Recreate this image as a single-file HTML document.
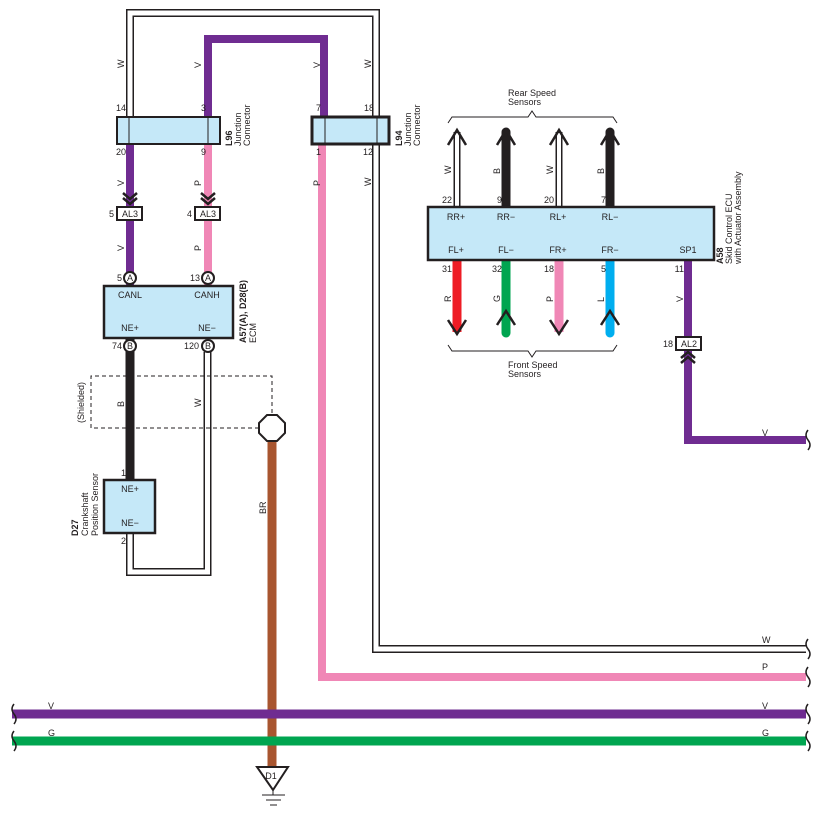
<!DOCTYPE html>
<html><head><meta charset="utf-8"><style>body{margin:0;background:#fff}svg{display:block}text{font-family:"Liberation Sans",sans-serif;font-size:9px;fill:#231f20}</style></head><body>
<svg width="818" height="819" viewBox="0 0 818 819" xmlns="http://www.w3.org/2000/svg">
<g fill="none" stroke-linejoin="miter">
<!-- white wire top loop -->
<path d="M130,117 V13 H376 V649 H806" stroke="#231f20" stroke-width="8"/>
<path d="M130,117 V13 H376 V649 H806" stroke="#fff" stroke-width="5"/>
<!-- purple top -->
<path d="M208,117 V39 H324 V117" stroke="#6f2c91" stroke-width="8"/>
<!-- pink L94 down -->
<path d="M322,144 V677 H806" stroke="#f087b6" stroke-width="8"/>
<!-- left wires -->
<path d="M130,144 V286" stroke="#6f2c91" stroke-width="8"/>
<path d="M208,144 V286" stroke="#f087b6" stroke-width="8"/>
<path d="M130,338 V480" stroke="#231f20" stroke-width="9"/>
<path d="M207.5,352 V572 H130 V533" stroke="#231f20" stroke-width="8"/>
<path d="M207.5,352 V572 H130 V533" stroke="#fff" stroke-width="5"/>
<!-- shield -->
<path d="M259,428 H91 V376 H272 V414" stroke="#231f20" stroke-width="1" stroke-dasharray="4,3"/>
<!-- BR -->
<path d="M272,441 V768" stroke="#a8552f" stroke-width="9"/>
<!-- bus -->
<path d="M12,714 H806" stroke="#6f2c91" stroke-width="9"/>
<path d="M12,741 H806" stroke="#00a550" stroke-width="9"/>
<!-- SP1 -->
<path d="M688,260 V440 H806" stroke="#6f2c91" stroke-width="8"/>
<!-- rear sensors -->
<path d="M457,207 V132" stroke="#231f20" stroke-width="7"/>
<path d="M457,208 V133" stroke="#fff" stroke-width="4"/>
<path d="M559,207 V132" stroke="#231f20" stroke-width="7"/>
<path d="M559,208 V133" stroke="#fff" stroke-width="4"/>
<path d="M506,207 V132" stroke="#231f20" stroke-width="9" stroke-linecap="round"/>
<path d="M610,207 V132" stroke="#231f20" stroke-width="9" stroke-linecap="round"/>
<!-- front sensors -->
<path d="M457,260 V332" stroke="#ee1c25" stroke-width="9"/>
<path d="M506,260 V333" stroke="#00a550" stroke-width="9" stroke-linecap="round"/>
<path d="M559,260 V332" stroke="#f087b6" stroke-width="9"/>
<path d="M610,260 V333" stroke="#00aeef" stroke-width="9" stroke-linecap="round"/>
<!-- chevrons -->
<g stroke="#231f20" stroke-width="2.5">
<path d="M448,145 L457,130 L466,145 M497,145 L506,130 L515,145 M550,145 L559,130 L568,145 M601,145 L610,130 L619,145"/>
<path d="M448,320 L457,334 L466,320 M550,320 L559,334 L568,320"/>
<path d="M497,325 L506,311 L515,325 M601,325 L610,311 L619,325"/>
<path d="M123,193 L130,199 L137,193 M123,198 L130,204 L137,198"/>
<path d="M201,193 L208,199 L215,193 M201,198 L208,204 L215,198"/>
<path d="M681,358 L688,352 L695,358 M681,363 L688,357 L695,363"/>
</g>
<!-- braces -->
<path d="M448,123 L452,117 H528 L532,111 L536,117 H613 L617,123" stroke="#231f20" stroke-width="1"/>
<path d="M448,345 L452,351 H528 L532,357 L536,351 H613 L617,345" stroke="#231f20" stroke-width="1"/>
<!-- squiggles -->
<g stroke="#231f20" stroke-width="1.5">
<path d="M14,704 q-4,5 0,10 q4,5 0,10 M14,731 q-4,5 0,10 q4,5 0,10"/>
<path d="M808,704 q-4,5 0,10 q4,5 0,10 M808,731 q-4,5 0,10 q4,5 0,10 M808,639 q-4,5 0,10 q4,5 0,10 M808,667 q-4,5 0,10 q4,5 0,10 M808,430 q-4,5 0,10 q4,5 0,10"/>
</g>
</g>
<!-- connectors -->
<rect x="117" y="117" width="103" height="27" fill="#c5e8f8" stroke="#231f20" stroke-width="2"/>
<path d="M129,117 V144 M208,117 V144" stroke="#231f20" stroke-width="1"/>
<rect x="312" y="117" width="77" height="27" fill="#c5e8f8" stroke="#231f20" stroke-width="3"/>
<path d="M325,117 V144 M377,117 V144" stroke="#231f20" stroke-width="1"/>
<rect x="117" y="207" width="25" height="13" fill="#fff" stroke="#231f20" stroke-width="2"/>
<rect x="195" y="207" width="25" height="13" fill="#fff" stroke="#231f20" stroke-width="2"/>
<rect x="676" y="337" width="25" height="13" fill="#fff" stroke="#231f20" stroke-width="2"/>
<rect x="104" y="286" width="129" height="52" fill="#c5e8f8" stroke="#231f20" stroke-width="2.5"/>
<rect x="104" y="480" width="51" height="53" fill="#c5e8f8" stroke="#231f20" stroke-width="2.5"/>
<rect x="428" y="207" width="286" height="53" fill="#c5e8f8" stroke="#231f20" stroke-width="2.5"/>
<g fill="#fff" stroke="#231f20" stroke-width="2">
<circle cx="130" cy="278" r="6"/><circle cx="208" cy="278" r="6"/>
<circle cx="130" cy="346" r="6"/><circle cx="208" cy="346" r="6"/>
<polygon points="267,415 277,415 285,423 285,433 277,441 267,441 259,433 259,423"/>
<polygon points="257,767 288,767 273,790"/>
</g>
<path d="M273,790 V795 M262,795 H285 M266,800 H281 M270,805 H277" stroke="#231f20" stroke-width="1"/>
<g text-anchor="middle">
<text x="130" y="217">AL3</text><text x="208" y="217">AL3</text><text x="689" y="347">AL2</text>
<text x="130" y="281" font-size="8">A</text><text x="208" y="281" font-size="8">A</text>
<text x="130" y="349" font-size="8">B</text><text x="208" y="349" font-size="8">B</text>
<text x="130" y="298">CANL</text><text x="207" y="298">CANH</text>
<text x="130" y="331">NE+</text><text x="207" y="331">NE−</text>
<text x="130" y="492">NE+</text><text x="130" y="526">NE−</text>
<text x="271" y="779" font-size="8">D1</text>
<text x="456" y="220">RR+</text><text x="506" y="220">RR−</text><text x="558" y="220">RL+</text><text x="610" y="220">RL−</text>
<text x="456" y="253">FL+</text><text x="506" y="253">FL−</text><text x="558" y="253">FR+</text><text x="610" y="253">FR−</text><text x="688" y="253">SP1</text>
</g>
<g text-anchor="end">
<text x="126" y="111">14</text><text x="206" y="111">3</text><text x="321" y="111">7</text><text x="374" y="111">18</text>
<text x="126" y="155">20</text><text x="206" y="155">9</text><text x="321" y="155">1</text><text x="373" y="155">12</text>
<text x="114" y="217">5</text><text x="192" y="217">4</text><text x="673" y="347">18</text>
<text x="122" y="281">5</text><text x="200" y="281">13</text><text x="122" y="349">74</text><text x="199" y="349">120</text>
<text x="126" y="476">1</text><text x="126" y="544">2</text>
<text x="452" y="203">22</text><text x="502" y="203">9</text><text x="554" y="203">20</text><text x="606" y="203">7</text>
<text x="452" y="272">31</text><text x="502" y="272">32</text><text x="554" y="272">18</text><text x="606" y="272">5</text><text x="684" y="272">11</text>
</g>
<text x="508" y="96">Rear Speed</text><text x="508" y="105">Sensors</text>
<text x="508" y="368">Front Speed</text><text x="508" y="377">Sensors</text>
<text x="48" y="709" font-size="8">V</text><text x="762" y="709" font-size="8">V</text>
<text x="48" y="736" font-size="8">G</text><text x="762" y="736" font-size="8">G</text>
<text x="762" y="643" font-size="8">W</text><text x="762" y="670" font-size="8">P</text><text x="762" y="436" font-size="8">V</text>
<g font-size="9">
<text transform="rotate(-90 124 68)" x="124" y="68">W</text>
<text transform="rotate(-90 201 68)" x="201" y="68">V</text>
<text transform="rotate(-90 320 68)" x="320" y="68">V</text>
<text transform="rotate(-90 371 68)" x="371" y="68">W</text>
<text transform="rotate(-90 124 186)" x="124" y="186">V</text>
<text transform="rotate(-90 201 186)" x="201" y="186">P</text>
<text transform="rotate(-90 320 186)" x="320" y="186">P</text>
<text transform="rotate(-90 371 186)" x="371" y="186">W</text>
<text transform="rotate(-90 124 251)" x="124" y="251">V</text>
<text transform="rotate(-90 201 251)" x="201" y="251">P</text>
<text transform="rotate(-90 124 407)" x="124" y="407">B</text>
<text transform="rotate(-90 201 407)" x="201" y="407">W</text>
<text transform="rotate(-90 266 514)" x="266" y="514">BR</text>
<text transform="rotate(-90 84 423)" x="84" y="423">(Shielded)</text>
<text transform="rotate(-90 451 174)" x="451" y="174">W</text>
<text transform="rotate(-90 500 174)" x="500" y="174">B</text>
<text transform="rotate(-90 553 174)" x="553" y="174">W</text>
<text transform="rotate(-90 604 174)" x="604" y="174">B</text>
<text transform="rotate(-90 451 302)" x="451" y="302">R</text>
<text transform="rotate(-90 500 302)" x="500" y="302">G</text>
<text transform="rotate(-90 553 302)" x="553" y="302">P</text>
<text transform="rotate(-90 604 302)" x="604" y="302">L</text>
<text transform="rotate(-90 683 302)" x="683" y="302">V</text>
<text transform="rotate(-90 232 146)" x="232" y="146" font-weight="bold">L96</text>
<text transform="rotate(-90 241 146)" x="241" y="146">Junction</text>
<text transform="rotate(-90 250 146)" x="250" y="146">Connector</text>
<text transform="rotate(-90 402 146)" x="402" y="146" font-weight="bold">L94</text>
<text transform="rotate(-90 411 146)" x="411" y="146">Junction</text>
<text transform="rotate(-90 420 146)" x="420" y="146">Connector</text>
<text transform="rotate(-90 246 343)" x="246" y="343" font-weight="bold">A57(A), D28(B)</text>
<text transform="rotate(-90 256 343)" x="256" y="343">ECM</text>
<text transform="rotate(-90 78 536)" x="78" y="536" font-weight="bold">D27</text>
<text transform="rotate(-90 88 536)" x="88" y="536">Crankshaft</text>
<text transform="rotate(-90 98 536)" x="98" y="536">Position Sensor</text>
<text transform="rotate(-90 723 264)" x="723" y="264" font-weight="bold">A58</text>
<text transform="rotate(-90 732 264)" x="732" y="264">Skid Control ECU</text>
<text transform="rotate(-90 741 264)" x="741" y="264">with Actuator Assembly</text>
</g>
</svg>
</body></html>
